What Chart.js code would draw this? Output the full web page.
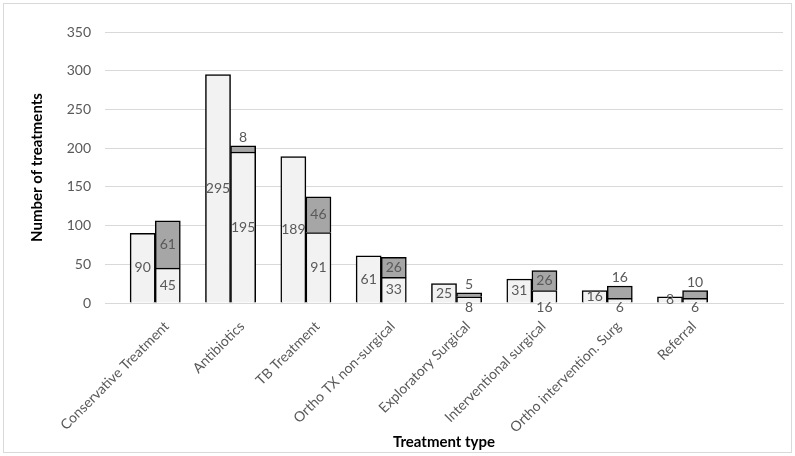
<!DOCTYPE html>
<html>
<head>
<meta charset="utf-8">
<script src="https://cdn.jsdelivr.net/npm/chart.js@4/dist/chart.umd.min.js"></script>
<style>
  html, body { margin: 0; padding: 0; background: #fff; }
  canvas { display: block; }
</style>
</head>
<body>
<canvas id="chart" width="795" height="456"></canvas>
<script>
// treatment categories (an empty 9th slot sits at the right end of the axis)
const categories = ['Conservative Treatment', 'Antibiotics', 'TB Treatment', 'Ortho TX non-surgical',
    'Exploratory Surgical', 'Interventional surgical', 'Ortho intervention. Surg', 'Referral', '']

const singleBar = [90, 295, 189, 61, 25, 31, 16, 8, null]
const stackBottom = [45, 195, 91, 33, 8, 16, 6, 6, null]
const stackTop = [61, 8, 46, 26, 5, 26, 16, 10, null]
const spacer = [null, null, null, null, null, null, null, null, null]

const yTicks = [0, 50, 100, 150, 200, 250, 300, 350]

const FONT = 'Lato, "Open Sans", sans-serif'
const LIGHT = '#f2f2f2'
const DARK = '#a6a6a6'

// border round the whole chart
const frame = {
    id: 'frame',
    beforeDraw(chart) {
        const c = chart.ctx
        c.save()
        c.fillStyle = '#fff'
        c.fillRect(0, 0, chart.width, chart.height)
        c.strokeStyle = '#d9d9d9'
        c.lineWidth = 1
        c.strokeRect(3.5, 3.5, chart.width - 7, chart.height - 7)
        c.restore()
    }
}

// value labels: centred, small segments are pushed out of the bar
const valueLabels = {
    id: 'valueLabels',
    afterDatasetsDraw(chart) {
        const c = chart.ctx
        c.save()
        c.font = '14px ' + FONT
        c.fillStyle = '#595959'
        c.textAlign = 'center'
        c.textBaseline = 'middle'
        chart.data.datasets.forEach((ds, i) => {
            if (!ds.labelMode) return
            const meta = chart.getDatasetMeta(i)
            meta.data.forEach((bar, j) => {
                const v = ds.data[j]
                if (v === null || v === undefined) return
                const top = Math.min(bar.y, bar.base)
                const bottom = Math.max(bar.y, bar.base)
                let y = (top + bottom) / 2
                const small = bottom - top < 15
                if (small && ds.labelMode === 'bottom') y = bottom + 5
                if (small && ds.labelMode === 'top') y = top - 8
                c.fillText(String(v), bar.x, y)
            })
        })
        c.restore()
    }
}

const ctx = document.getElementById('chart').getContext('2d')

new Chart(ctx, {
    type: 'bar',
    data: {
        labels: categories,
        datasets: [
            { label: '', data: spacer, stack: 's0', backgroundColor: 'transparent', borderWidth: 0 },
            { label: 'Single', data: singleBar, stack: 's1', backgroundColor: LIGHT,
              borderColor: '#000', borderWidth: 1.5, labelMode: 'center' },
            { label: 'Bottom', data: stackBottom, stack: 's2', backgroundColor: LIGHT,
              borderColor: '#000', borderWidth: 1.5, labelMode: 'bottom' },
            { label: 'Top', data: stackTop, stack: 's2', backgroundColor: DARK,
              borderColor: '#000', borderWidth: 1.5, labelMode: 'top' }
        ]
    },
    options: {
        responsive: false,
        animation: false,
        devicePixelRatio: 1,
        categoryPercentage: 1,
        barPercentage: 1,
        layout: { padding: { top: 32, right: 12, left: 0, bottom: 0 } },
        plugins: {
            legend: { display: false },
            tooltip: { enabled: false }
        },
        scales: {
            x: {
                stacked: true,
                grid: { display: false, drawTicks: false },
                border: { color: '#d9d9d9', width: 1 },
                ticks: {
                    minRotation: 45, maxRotation: 45,
                    labelOffset: 24, padding: 15,
                    color: '#595959',
                    font: { family: FONT, size: 14 },
                    autoSkip: false
                },
                title: {
                    display: true, text: 'Treatment type', color: '#000',
                    font: { family: FONT, size: 15, weight: 'bold' },
                    padding: { top: 0, bottom: 5 }
                },
                afterFit(scale) { scale.height = 153 }
            },
            y: {
                stacked: true,
                min: 0, max: 350,
                afterBuildTicks(scale) { scale.ticks = yTicks.map(v => ({ value: v })) },
                grid: { color: '#d9d9d9', drawTicks: false },
                border: { display: false },
                ticks: {
                    padding: 14,
                    color: '#595959',
                    font: { family: FONT, size: 14 }
                },
                title: {
                    display: true, text: 'Number of treatments', color: '#000',
                    font: { family: FONT, size: 15, weight: 'bold' },
                    padding: { top: 28, bottom: 0 }
                },
                afterFit(scale) { scale.width = 105 }
            }
        }
    },
    plugins: [frame, valueLabels]
})
</script>
</body>
</html>
